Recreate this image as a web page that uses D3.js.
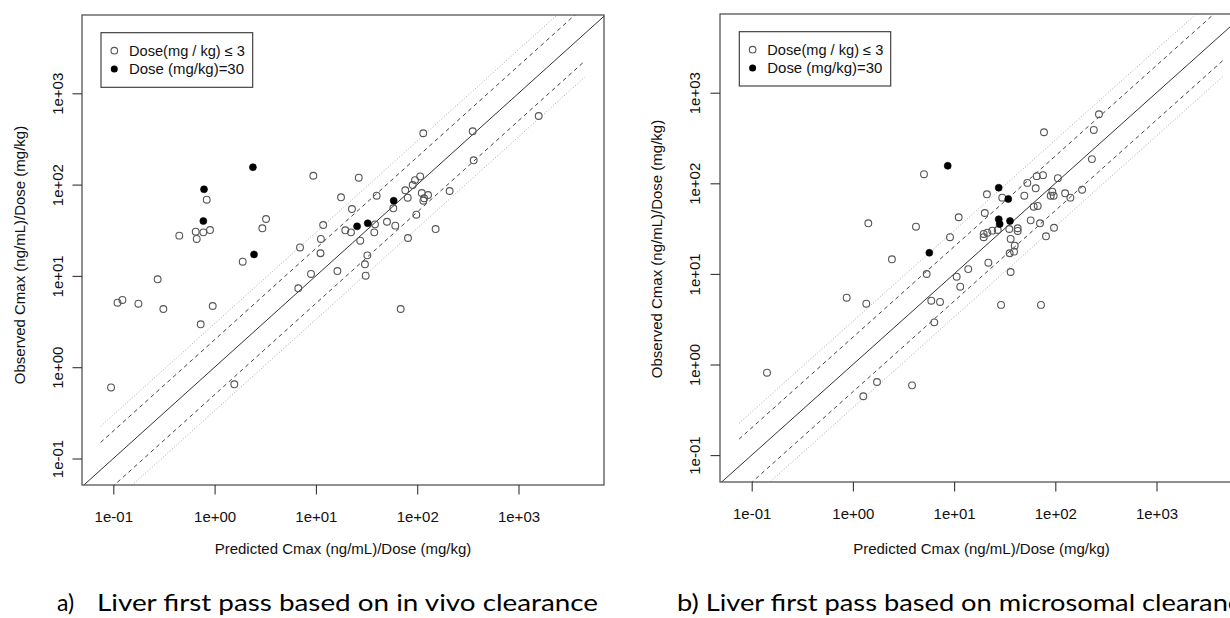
<!DOCTYPE html>
<html><head><meta charset="utf-8">
<script src="https://cdn.jsdelivr.net/npm/d3@7"></script>
<style>
html,body{margin:0;padding:0;background:#fff;overflow:hidden;}
svg{display:block;font-family:"Liberation Sans",Arial,sans-serif;}
</style></head><body>
<svg id="chart" width="1230" height="618"></svg>
<script>
// ---------- data ----------
const tickValues = [0.1, 1, 10, 100, 1000];
const tickLabels = ["1e-01", "1e+00", "1e+01", "1e+02", "1e+03"];
const legendLabels = ["Dose(mg / kg) \u2264 3", "Dose (mg/kg)=30"];
const xTitle = "Predicted Cmax (ng/mL)/Dose (mg/kg)";
const yTitle = "Observed Cmax (ng/mL)/Dose (mg/kg)";
const captionA = ["a)", "Liver first pass based on in vivo clearance"];
const captionB = "b) Liver first pass based on microsomal clearance";
const refFactors = [2, 0.5];      // dashed lines
const refFactorsOuter = [3, 1 / 3]; // dotted lines
const refRange = [0.075, 4500];

// panel a: dose <= 3 (open) and dose = 30 (filled)
const aLowX = [0.095,0.110,0.123,0.177,0.274,0.312,0.729,0.958,1.565,1.894,0.836,0.448,0.651,0.774,0.901,0.666,3.22,2.96,6.97,9.43,26.5,114.8,353,1583,361,17.7,39.8,22.7,11.8,11.2,19.5,22.2,38.3,27.4,37.7,50.3,60.8,58.1,76.3,80.6,90.3,95.1,107,111,128,117,115,209,98.0,152,81.1,11.1,8.95,6.70,16.3,32.2,30.5,31.0,68.7];
const aLowY = [0.60,5.09,5.45,4.96,9.18,4.34,2.95,4.68,0.65,14.3,68.3,27.6,30.5,30.0,31.8,25.4,42.0,33.2,20.5,125,119,365,384,564,184.5,72.6,75.6,54.0,36.1,25.4,31.6,30.0,36.7,24.3,30.0,39.2,35.5,55.0,86.6,71.9,99.0,112,123,80.9,76.9,70.8,66.6,85.1,46.8,32.6,26.0,17.7,10.5,7.31,11.3,16.8,13.4,10.05,4.34];
const aHighX = [0.786,0.774,2.39,2.45,25.5,32.5,58.6];
const aHighY = [88.8,39.9,155,17.2,34.9,37.7,66.6];

// panel b
const bLowX = [0.1416,0.868,1.356,1.42,1.267,1.73,3.84,2.43,5.04,4.20,5.36,5.95,7.26,6.37,9.11,11.1,10.6,11.5,77.3,270,240,230,65.5,75.6,106,52.9,64.0,21.1,29.9,49.4,93.4,90.1,96.4,125,141,184,20.1,61.2,67.0,57.1,70.6,35.1,42.5,42.5,27.0,23.8,21.3,19.6,19.6,36.2,39.7,80.9,97.1,39.1,35.4,21.8,13.8,36.2,29.1,72.2];
const bLowY = [0.812,5.46,4.69,36.2,0.446,0.641,0.589,14.5,126,33.2,9.97,5.06,4.90,2.92,25.4,42.2,9.31,7.22,366,578,388,185,120,123,114,101,88.1,75.6,69.4,73.0,80.8,73.0,73.0,77.6,69.4,85.0,47.0,55.2,56.2,39.0,36.2,31.3,31.9,29.8,30.5,30.0,28.5,27.6,25.4,24.3,20.5,26.0,32.3,17.6,16.9,13.3,11.3,10.5,4.55,4.55];
const bHighX = [8.65,27.6,34.3,27.6,28.2,35.7,5.69];
const bHighY = [156,89.4,67.1,40.1,35.6,38.4,17.1];

// ---------- layout ----------
const panels = [
  { id: "a", frame: {x0: 82, x1: 604, y0: 15, y1: 485}, xr: [113.3, 518.5], yr: [458.5, 93.3],
    lowX: aLowX, lowY: aLowY, highX: aHighX, highY: aHighY,
    legend: {x: 101, y: 32.7, w: 151.7, h: 54.6}, yTitleX: 25, yTitleY: 255, yLabOff: 19 },
  { id: "b", frame: {x0: 720, x1: 1243, y0: 14, y1: 482}, xr: [751.7, 1156.5], yr: [455.1, 92.7],
    lowX: bLowX, lowY: bLowY, highX: bHighX, highY: bHighY,
    legend: {x: 739.3, y: 31.7, w: 151.4, h: 54.3}, yTitleX: 662, yTitleY: 249, yLabOff: 20 }
];

const svg = d3.select("#chart");

panels.forEach(p => {
  const f = p.frame;
  const x = d3.scaleLog().domain([0.1, 1000]).range(p.xr);
  const y = d3.scaleLog().domain([0.1, 1000]).range(p.yr);
  const g = svg.append("g");

  const clipId = "clip-" + p.id;
  g.append("clipPath").attr("id", clipId).append("rect")
    .attr("x", f.x0).attr("y", f.y0).attr("width", f.x1 - f.x0).attr("height", f.y1 - f.y0);

  const plot = g.append("g").attr("clip-path", `url(#${clipId})`);
  const line = d3.line().x(d => x(d[0])).y(d => y(d[1]));

  // identity line
  plot.append("path").datum([[1e-3, 1e-3], [1e5, 1e5]]).attr("d", line)
    .attr("fill", "none").attr("stroke", "#333").attr("stroke-width", 1);
  // dashed 2-fold
  refFactors.forEach(k => {
    plot.append("path").datum(refRange.map(v => [v, v * k])).attr("d", line)
      .attr("fill", "none").attr("stroke", "#444").attr("stroke-width", 1)
      .attr("stroke-dasharray", "4,3.5");
  });
  // dotted 3-fold
  refFactorsOuter.forEach(k => {
    plot.append("path").datum(refRange.map(v => [v, v * k])).attr("d", line)
      .attr("fill", "none").attr("stroke", "#aaa").attr("stroke-width", 1)
      .attr("stroke-dasharray", "1,2");
  });

  // points
  const low = p.lowX.map((v, i) => [v, p.lowY[i]]);
  const high = p.highX.map((v, i) => [v, p.highY[i]]);
  plot.selectAll("circle.low").data(low).enter().append("circle").attr("class", "low")
    .attr("cx", d => x(d[0])).attr("cy", d => y(d[1])).attr("r", 3.4)
    .attr("fill", "none").attr("stroke", "#555").attr("stroke-width", 1.1);
  plot.selectAll("circle.high").data(high).enter().append("circle").attr("class", "high")
    .attr("cx", d => x(d[0])).attr("cy", d => y(d[1])).attr("r", 3.5)
    .attr("fill", "#000").attr("stroke", "#000").attr("stroke-width", 0.6);

  // frame
  g.append("rect").attr("x", f.x0).attr("y", f.y0).attr("width", f.x1 - f.x0).attr("height", f.y1 - f.y0)
    .attr("fill", "none").attr("stroke", "#555").attr("stroke-width", 1.3);

  // x axis
  const xa = g.append("g").attr("transform", `translate(0,${f.y1})`)
    .call(d3.axisBottom(x).tickValues(tickValues).tickFormat((d, i) => tickLabels[i]).tickSize(9.5));
  xa.select(".domain").remove();
  xa.selectAll(".tick line").attr("stroke", "#333").attr("stroke-width", 1.1);
  xa.selectAll(".tick text").attr("y", 37).attr("dy", 0).attr("fill", "#111")
    .style("font-size", "15px").style("font-family", '"Liberation Sans", Arial, sans-serif');

  // y axis
  const ya = g.append("g").attr("transform", `translate(${f.x0},0)`)
    .call(d3.axisLeft(y).tickValues(tickValues).tickFormat((d, i) => tickLabels[i]).tickSize(9.5));
  ya.select(".domain").remove();
  ya.selectAll(".tick line").attr("stroke", "#333").attr("stroke-width", 1.1);
  ya.selectAll(".tick text").attr("x", 0).attr("dy", 0).attr("text-anchor", "middle")
    .attr("transform", `translate(${-p.yLabOff},0) rotate(-90)`).attr("fill", "#111")
    .style("font-size", "15px").style("font-family", '"Liberation Sans", Arial, sans-serif');

  // titles
  g.append("text").attr("x", (f.x0 + f.x1) / 2).attr("y", 554).attr("text-anchor", "middle")
    .attr("fill", "#111").style("font-size", "15px").text(xTitle);
  g.append("text").attr("transform", `translate(${p.yTitleX},${p.yTitleY}) rotate(-90)`)
    .attr("text-anchor", "middle").attr("fill", "#111").style("font-size", "15px").text(yTitle);

  // legend
  const L = p.legend;
  const lg = g.append("g");
  lg.append("rect").attr("x", L.x).attr("y", L.y).attr("width", L.w).attr("height", L.h)
    .attr("fill", "#fff").attr("stroke", "#333").attr("stroke-width", 1.1);
  const rows = [L.y + 18, L.y + 36.3];
  lg.append("circle").attr("cx", L.x + 13.3).attr("cy", rows[0]).attr("r", 3.3)
    .attr("fill", "none").attr("stroke", "#555").attr("stroke-width", 1.1);
  lg.append("circle").attr("cx", L.x + 13.3).attr("cy", rows[1]).attr("r", 3.5).attr("fill", "#000");
  lg.append("text").attr("x", L.x + 28).attr("y", rows[0] + 5).attr("fill", "#111")
    .style("font-size", "14px").attr("textLength", 116).attr("lengthAdjust", "spacingAndGlyphs")
    .text(legendLabels[0]);
  lg.append("text").attr("x", L.x + 28).attr("y", rows[1] + 5).attr("fill", "#111")
    .style("font-size", "14px").attr("textLength", 115).attr("lengthAdjust", "spacingAndGlyphs")
    .text(legendLabels[1]);
});

// captions
svg.append("text").attr("x", 57).attr("y", 611).style("font-family", "Lato, 'Open Sans', sans-serif")
  .style("font-size", "23px").attr("fill", "#000").text(captionA[0]);
svg.append("text").attr("x", 97).attr("y", 611).style("font-family", "Lato, 'Open Sans', sans-serif")
  .style("font-size", "23px").attr("fill", "#000")
  .attr("textLength", 501).attr("lengthAdjust", "spacingAndGlyphs").text(captionA[1]);
svg.append("text").attr("x", 677).attr("y", 611).style("font-family", "Lato, 'Open Sans', sans-serif")
  .style("font-size", "23px").attr("fill", "#000")
  .attr("textLength", 578).attr("lengthAdjust", "spacingAndGlyphs").text(captionB);
</script>
</body></html>
